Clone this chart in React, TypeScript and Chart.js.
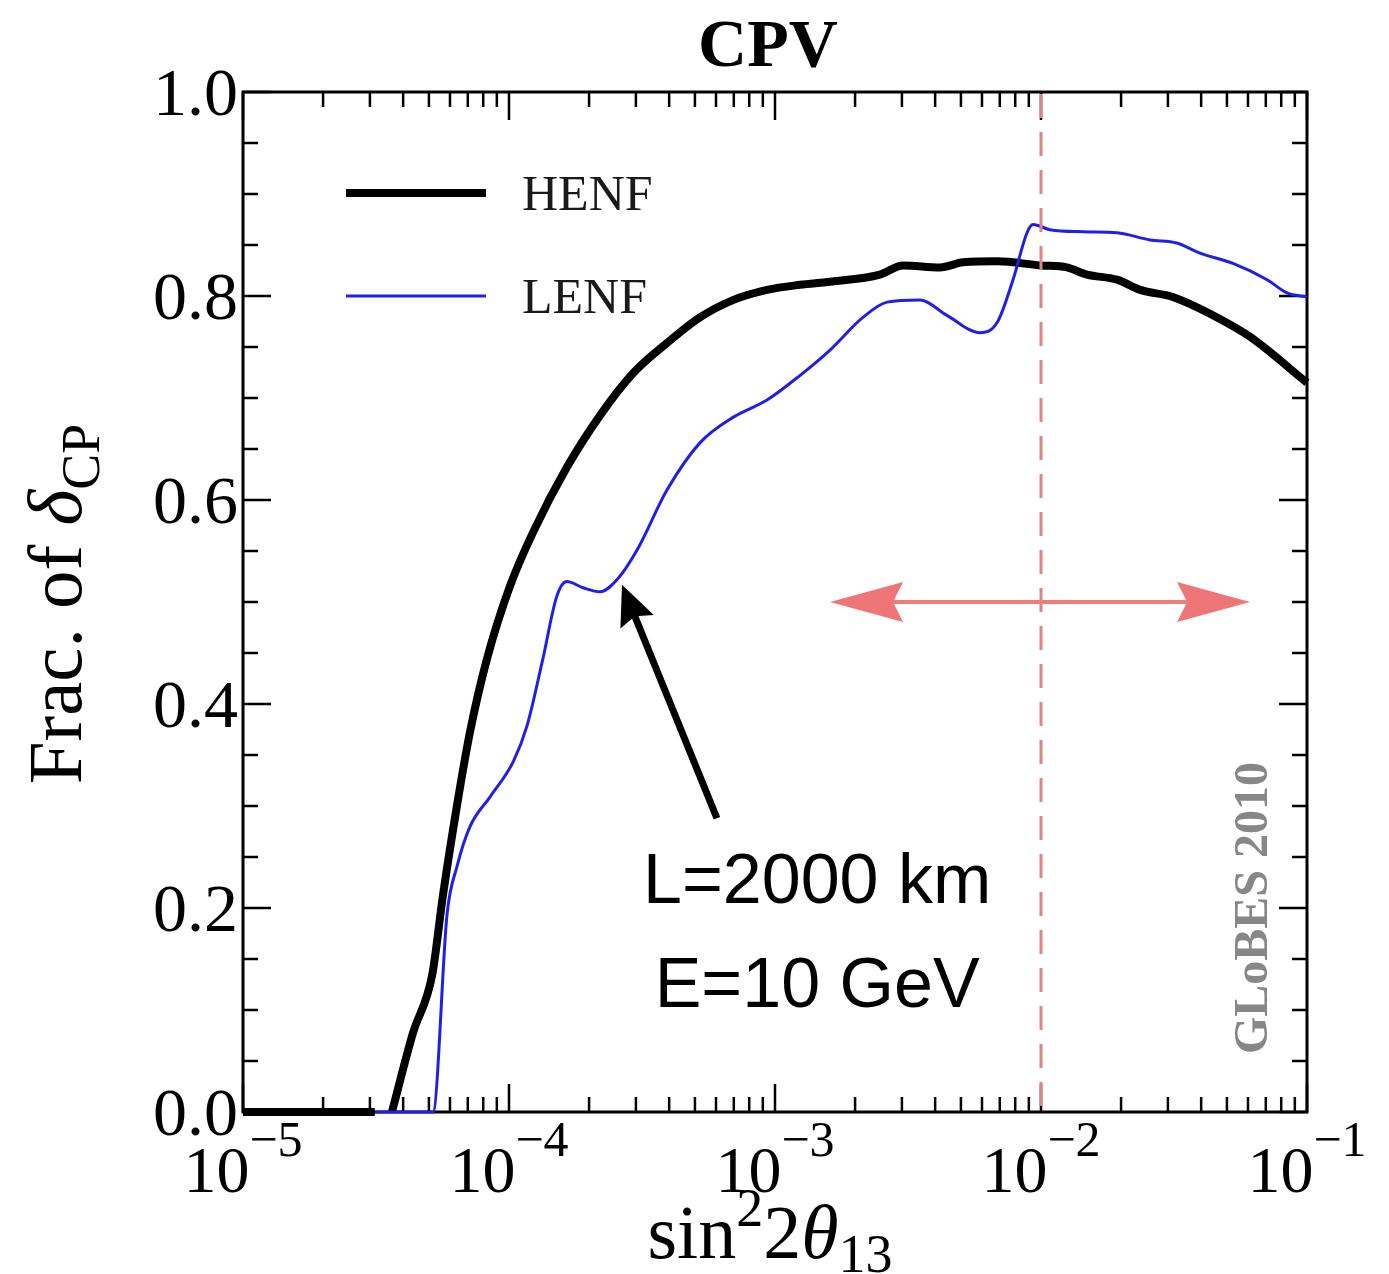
import React, { useEffect, useRef } from 'react';
import { Chart, registerables } from 'chart.js';

Chart.register(...registerables);

// ---------- data ----------
const henfX = [1e-5, 3.13e-5, 3.35e-5, 3.63e-5, 4.35e-5, 5.14e-5, 5.65e-5, 6.38e-5, 7.14e-5, 8.26e-5, 1.01e-4, 1.23e-4, 1.65e-4, 2.2e-4, 2.92e-4, 3.93e-4, 5.22e-4, 6.95e-4, 9.33e-4, 1.24e-3, 1.61e-3, 2.48e-3, 3.03e-3, 4.17e-3, 5.09e-3, 6.84e-3, 9.91e-3, 1.25e-2, 1.49e-2, 1.93e-2, 2.36e-2, 3.13e-2, 4.59e-2, 6.11e-2, 0.1];
const henfY = [0, 0, null, 0, 0.077, 0.134, 0.213, 0.301, 0.373, 0.444, 0.516, 0.568, 0.632, 0.683, 0.724, 0.754, 0.779, 0.796, 0.806, 0.811, 0.814, 0.821, 0.83, 0.828, 0.833, 0.834, 0.83, 0.828, 0.821, 0.816, 0.806, 0.799, 0.779, 0.76, 0.715];

const lenfX = [3.13e-5, 5.18e-5, 5.85e-5, 6.38e-5, 7.14e-5, 8.49e-5, 1.04e-4, 1.17e-4, 1.34e-4, 1.51e-4, 1.65e-4, 1.9e-4, 2.2e-4, 2.55e-4, 3.03e-4, 3.93e-4, 5.22e-4, 6.95e-4, 9.33e-4, 1.24e-3, 1.61e-3, 2.14e-3, 2.64e-3, 3.51e-3, 4.43e-3, 5.9e-3, 6.84e-3, 7.85e-3, 8.86e-3, 9.33e-3, 1.08e-2, 1.44e-2, 1.93e-2, 2.57e-2, 3.24e-2, 3.96e-2, 5.27e-2, 7.08e-2, 8.41e-2, 0.1];
const lenfY = [0, 0, 0.194, 0.241, 0.28, 0.309, 0.344, 0.379, 0.444, 0.505, 0.52, 0.514, 0.51, 0.522, 0.551, 0.61, 0.656, 0.681, 0.698, 0.722, 0.747, 0.779, 0.794, 0.796, 0.781, 0.764, 0.774, 0.816, 0.862, 0.87, 0.865, 0.863, 0.862, 0.855, 0.852, 0.842, 0.832, 0.816, 0.803, 0.799];

const seriesNames = ['HENF', 'LENF'];

const yMajorTicks = [0, 0.2, 0.4, 0.6, 0.8, 1.0];
const yTickLabels = ['0.0', '0.2', '0.4', '0.6', '0.8', '1.0'];
const xDecades = [1e-5, 1e-4, 1e-3, 1e-2, 1e-1];
const xTickExponents = ['\u22125', '\u22124', '\u22123', '\u22122', '\u22121'];

const titleText = 'CPV';
const watermark = 'GLoBES 2010';
const annotLines = ['L=2000 km', 'E=10 GeV'];
// annotation anchors (data coordinates)
const annotX = 1.44e-3;
const annotY = [0.205, 0.103];
const pointerFrom = { x: 6.05e-4, y: 0.288 };
const pointerTo = { x: 2.66e-4, y: 0.517 };
const rangeFrom = { x: 1.61e-3, y: 0.5 };
const rangeTo = { x: 6.11e-2, y: 0.5 };
const refLineX = 0.01;

const SERIF = '"Liberation Serif", "Times New Roman", serif';
const SANS = '"Liberation Sans", Arial, sans-serif';

type Run = { text: string; font: string; dy?: number };

function runsWidth(ctx: CanvasRenderingContext2D, runs: Run[]) {
  let w = 0;
  for (const r of runs) {
    ctx.font = r.font;
    w += ctx.measureText(r.text).width;
  }
  return w;
}

function drawRuns(ctx: CanvasRenderingContext2D, runs: Run[], cx: number, by: number) {
  const w = runsWidth(ctx, runs);
  let x = cx - w / 2;
  ctx.textAlign = 'left';
  ctx.textBaseline = 'alphabetic';
  for (const r of runs) {
    ctx.font = r.font;
    ctx.fillText(r.text, x, by + (r.dy || 0));
    x += ctx.measureText(r.text).width;
  }
}

function arrowHead(ctx: CanvasRenderingContext2D, tx: number, ty: number, ang: number, len: number, half: number, notch: number) {
  const c = Math.cos(ang), s = Math.sin(ang);
  const bx = tx - c * len, by = ty - s * len;
  ctx.beginPath();
  ctx.moveTo(tx, ty);
  ctx.lineTo(bx - s * half, by + c * half);
  ctx.lineTo(tx - c * (len - notch), ty - s * (len - notch));
  ctx.lineTo(bx + s * half, by - c * half);
  ctx.closePath();
  ctx.fill();
}

const framePlugin = {
  id: 'framePlugin',
  beforeDatasetsDraw(chart: any) {
    const ctx: CanvasRenderingContext2D = chart.ctx;
    const { left, right, top, bottom } = chart.chartArea;
    const xs = chart.scales.x, ys = chart.scales.y;
    ctx.save();
    ctx.strokeStyle = '#000';
    ctx.lineWidth = 3;
    ctx.strokeRect(left, top, right - left, bottom - top);
    ctx.lineWidth = 2.5;
    for (let k = 0; k <= 20; k++) {
      const v = k * 0.05;
      const py = ys.getPixelForValue(v);
      const major = k % 4 === 0;
      const L = major ? 28 : 15;
      ctx.beginPath();
      ctx.moveTo(left, py); ctx.lineTo(left + L, py);
      ctx.moveTo(right, py); ctx.lineTo(right - L, py);
      ctx.stroke();
    }
    for (let d = 0; d < xDecades.length; d++) {
      const dec = xDecades[d];
      const px = xs.getPixelForValue(dec);
      ctx.beginPath();
      ctx.moveTo(px, bottom); ctx.lineTo(px, bottom - 28);
      ctx.moveTo(px, top); ctx.lineTo(px, top + 28);
      ctx.stroke();
      if (d < xDecades.length - 1) {
        for (let m = 2; m <= 9; m++) {
          const mx = xs.getPixelForValue(m * dec);
          ctx.beginPath();
          ctx.moveTo(mx, bottom); ctx.lineTo(mx, bottom - 15);
          ctx.moveTo(mx, top); ctx.lineTo(mx, top + 15);
          ctx.stroke();
        }
      }
    }
    ctx.restore();
  },
  afterDatasetsDraw(chart: any) {
    const ctx: CanvasRenderingContext2D = chart.ctx;
    const { left, top, bottom } = chart.chartArea;
    const xs = chart.scales.x, ys = chart.scales.y;
    ctx.save();

    // reference dashed line
    const rx = xs.getPixelForValue(refLineX);
    ctx.strokeStyle = '#dc8585';
    ctx.lineWidth = 3;
    ctx.setLineDash([24, 14]);
    ctx.beginPath();
    ctx.moveTo(rx, top + 2); ctx.lineTo(rx, bottom);
    ctx.stroke();
    ctx.setLineDash([]);

    // pink double arrow
    const ax1 = xs.getPixelForValue(rangeFrom.x), ay = ys.getPixelForValue(rangeFrom.y);
    const ax2 = xs.getPixelForValue(rangeTo.x);
    ctx.strokeStyle = '#ef7d7d';
    ctx.fillStyle = '#ef7676';
    ctx.lineWidth = 4;
    ctx.beginPath();
    ctx.moveTo(ax1 + 50, ay); ctx.lineTo(ax2 - 50, ay);
    ctx.stroke();
    arrowHead(ctx, ax1, ay, Math.PI, 73, 20, 10);
    arrowHead(ctx, ax2, ay, 0, 73, 20, 10);

    // black pointer arrow
    const p1x = xs.getPixelForValue(pointerFrom.x), p1y = ys.getPixelForValue(pointerFrom.y);
    const p2x = xs.getPixelForValue(pointerTo.x), p2y = ys.getPixelForValue(pointerTo.y);
    const ang = Math.atan2(p2y - p1y, p2x - p1x);
    ctx.strokeStyle = '#000';
    ctx.fillStyle = '#000';
    ctx.lineWidth = 7;
    ctx.beginPath();
    ctx.moveTo(p1x, p1y);
    ctx.lineTo(p2x - Math.cos(ang) * 30, p2y - Math.sin(ang) * 30);
    ctx.stroke();
    arrowHead(ctx, p2x, p2y, ang, 40, 18, 6);

    // annotation text
    ctx.fillStyle = '#000';
    ctx.font = `70px ${SANS}`;
    ctx.textAlign = 'center';
    ctx.textBaseline = 'alphabetic';
    const tx = xs.getPixelForValue(annotX);
    annotLines.forEach((t, i) => ctx.fillText(t, tx, ys.getPixelForValue(annotY[i])));

    // watermark
    ctx.save();
    ctx.translate(1267, 908);
    ctx.rotate(-Math.PI / 2);
    ctx.fillStyle = '#878787';
    ctx.font = `bold 48px ${SERIF}`;
    ctx.textAlign = 'center';
    ctx.fillText(watermark, 0, 0);
    ctx.restore();

    // legend
    const ds = chart.data.datasets;
    const legY = [193, 296];
    ds.forEach((d: any, i: number) => {
      ctx.strokeStyle = d.borderColor;
      ctx.lineWidth = d.borderWidth;
      ctx.beginPath();
      ctx.moveTo(346, legY[i]); ctx.lineTo(486, legY[i]);
      ctx.stroke();
      ctx.fillStyle = '#1a1a1a';
      ctx.font = `50px ${SERIF}`;
      ctx.textAlign = 'left';
      ctx.fillText(d.label, 522, legY[i] + 17);
    });

    // y tick labels
    ctx.fillStyle = '#000';
    ctx.font = `68px ${SERIF}`;
    ctx.textAlign = 'right';
    yMajorTicks.forEach((v, i) => {
      ctx.fillText(yTickLabels[i], left - 5, ys.getPixelForValue(v) + 23);
    });

    // x tick labels
    xDecades.forEach((v, i) => {
      const px = xs.getPixelForValue(v);
      drawRuns(ctx, [
        { text: '10', font: `66px ${SERIF}` },
        { text: xTickExponents[i], font: `50px ${SERIF}`, dy: -36 },
      ], px, 1192);
    });

    // title
    ctx.font = `bold 68px ${SERIF}`;
    ctx.textAlign = 'center';
    ctx.fillText(titleText, 768, 66);

    // x axis title
    drawRuns(ctx, [
      { text: 'sin', font: `76px ${SERIF}` },
      { text: '2', font: `54px ${SERIF}`, dy: -32 },
      { text: '2', font: `76px ${SERIF}` },
      { text: '\u03b8', font: `italic 76px ${SERIF}` },
      { text: '13', font: `54px ${SERIF}`, dy: 14 },
    ], 770, 1258);

    // y axis title
    ctx.save();
    ctx.translate(81, 604);
    ctx.rotate(-Math.PI / 2);
    drawRuns(ctx, [
      { text: 'Frac. of ', font: `77px ${SERIF}` },
      { text: '\u03b4', font: `italic 77px ${SERIF}` },
      { text: 'CP', font: `54px ${SERIF}`, dy: 18 },
    ], 0, 0);
    ctx.restore();

    ctx.restore();
  },
};

export default function App() {
  const ref = useRef<HTMLCanvasElement | null>(null);
  useEffect(() => {
    document.body.style.margin = '0';
    document.body.style.overflow = 'hidden';
    const canvas = ref.current;
    if (!canvas) return;
    const chart = new Chart(canvas, {
      type: 'line',
      data: {
        datasets: [
          {
            label: seriesNames[0],
            data: henfX.map((x, i) => ({ x, y: henfY[i] })) as any,
            borderColor: '#000000',
            borderWidth: 8,
            pointRadius: 0,
            cubicInterpolationMode: 'monotone',
            borderCapStyle: 'butt',
            borderJoinStyle: 'round',
            fill: false,
            clip: false as any,
            order: 2,
          },
          {
            label: seriesNames[1],
            data: lenfX.map((x, i) => ({ x, y: lenfY[i] })) as any,
            borderColor: '#1f1fe8',
            borderWidth: 3,
            pointRadius: 0,
            cubicInterpolationMode: 'monotone',
            borderJoinStyle: 'round',
            fill: false,
            clip: false as any,
            order: 1,
          },
        ],
      },
      options: {
        responsive: false,
        animation: false,
        devicePixelRatio: 1,
        layout: { padding: { left: 243, right: 82, top: 92, bottom: 162 } },
        plugins: {
          legend: { display: false },
          tooltip: { enabled: false },
          title: { display: false },
        },
        scales: {
          x: { type: 'logarithmic', min: 1e-5, max: 0.1, display: false },
          y: { type: 'linear', min: 0, max: 1, display: false },
        },
      },
      plugins: [framePlugin],
    });
    return () => chart.destroy();
  }, []);
  return (
    <div style={{ width: 1389, height: 1274, background: '#fff' }}>
      <canvas ref={ref} width={1389} height={1274} style={{ display: 'block' }} />
    </div>
  );
}
